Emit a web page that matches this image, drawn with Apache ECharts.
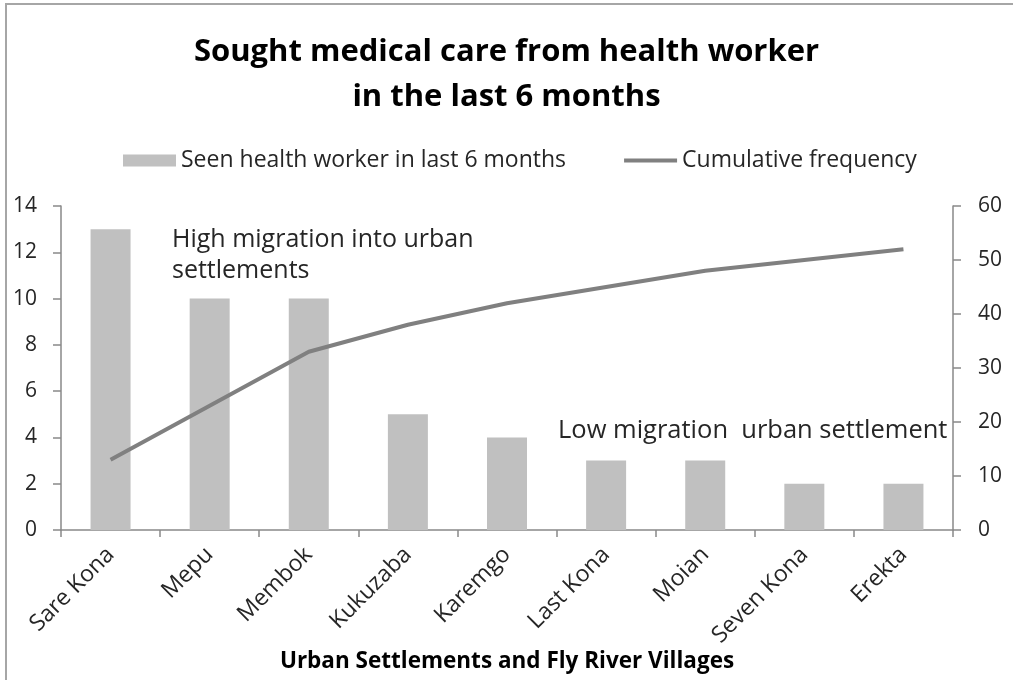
<!DOCTYPE html>
<html>
<head>
<meta charset="utf-8">
<script src="https://cdn.jsdelivr.net/npm/echarts@6/dist/echarts.min.js"></script>
<style>html,body{margin:0;padding:0;background:#fff;}#c{width:1013px;height:680px;}</style>
</head>
<body>
<div id="c"></div>
<script>
const categories = ['Sare Kona','Mepu','Membok','Kukuzaba','Karemgo','Last Kona','Moian','Seven Kona','Erekta'];
const seenValues = [13, 10, 10, 5, 4, 3, 3, 2, 2];
const cumulativeValues = [13, 23, 33, 38, 42, 45, 48, 50, 52];
const leftTicks = [0, 14, 2];
const rightTicks = [0, 60, 10];

const FONT = '"Open Sans", Lato, sans-serif';
const TXT = '#262626';
const AX = '#898989';

const chart = echarts.init(document.getElementById('c'), null, {renderer: 'canvas'});
chart.setOption({
  animation: false,
  backgroundColor: '#fff',
  textStyle: {fontFamily: FONT},
  title: {
    text: 'Sought medical care from health worker\nin the last 6 months',
    left: 'center', top: 25,
    textStyle: {fontFamily: FONT, fontSize: 31, fontWeight: 'bold', color: '#000', lineHeight: 45}
  },
  legend: {
    top: 144, left: 118,
    itemWidth: 53, itemHeight: 12, itemGap: 58,
    textStyle: {fontFamily: FONT, fontSize: 23, color: TXT},
    data: [
      {name: 'Seen health worker in last 6 months', icon: 'rect'},
      {name: 'Cumulative frequency', icon: 'path://M0,0 L53,0 L53,4 L0,4 Z'}
    ]
  },
  grid: {left: 61, right: 60, top: 206, bottom: 150, containLabel: false, outerBoundsMode: 'none'},
  xAxis: {
    type: 'category', data: categories, boundaryGap: true,
    name: 'Urban Settlements and Fly River Villages', nameLocation: 'middle', nameGap: 119,
    nameTextStyle: {fontFamily: FONT, fontSize: 22.5, fontWeight: 'bold', color: '#000'},
    axisLine: {lineStyle: {color: AX, width: 1.5}},
    axisTick: {show: true, alignWithLabel: false, interval: 0, length: 7, lineStyle: {color: AX, width: 1.5}},
    axisLabel: {rotate: 45, interval: 0, margin: 21, fontFamily: FONT, fontSize: 23, color: TXT},
    splitLine: {show: false}
  },
  yAxis: [{
    type: 'value', min: leftTicks[0], max: leftTicks[1], interval: leftTicks[2],
    axisLine: {show: true, lineStyle: {color: AX, width: 1.5}},
    axisTick: {show: true, length: 8, lineStyle: {color: AX, width: 1.5}},
    axisLabel: {margin: 24, fontFamily: FONT, fontSize: 21, color: TXT},
    splitLine: {show: false}
  }, {
    type: 'value', min: rightTicks[0], max: rightTicks[1], interval: rightTicks[2], position: 'right',
    axisLine: {show: true, lineStyle: {color: AX, width: 1.5}},
    axisTick: {show: true, length: 8, lineStyle: {color: AX, width: 1.5}},
    axisLabel: {margin: 25, fontFamily: FONT, fontSize: 21, color: TXT},
    splitLine: {show: false}
  }],
  series: [{
    name: 'Seen health worker in last 6 months', type: 'bar', data: seenValues,
    barWidth: 40, itemStyle: {color: '#c0c0c0'}, yAxisIndex: 0
  }, {
    name: 'Cumulative frequency', type: 'line', data: cumulativeValues, yAxisIndex: 1,
    symbol: 'none', lineStyle: {color: '#808080', width: 4}, itemStyle: {color: '#808080'}
  }],
  graphic: [
    {type: 'rect', shape: {x: 6, y: 4, width: 1100, height: 800}, style: {fill: 'none', stroke: '#a6a6a6', lineWidth: 2}, silent: true},
    {type: 'text', left: 172, top: 224, style: {text: 'High migration into urban\nsettlements', fontFamily: FONT, fontSize: 25, lineHeight: 31, fill: TXT}},
    {type: 'text', left: 558, top: 415, style: {text: 'Low migration  urban settlement', fontFamily: FONT, fontSize: 25.5, lineHeight: 31, fill: TXT}}
  ]
});
</script>
</body>
</html>
